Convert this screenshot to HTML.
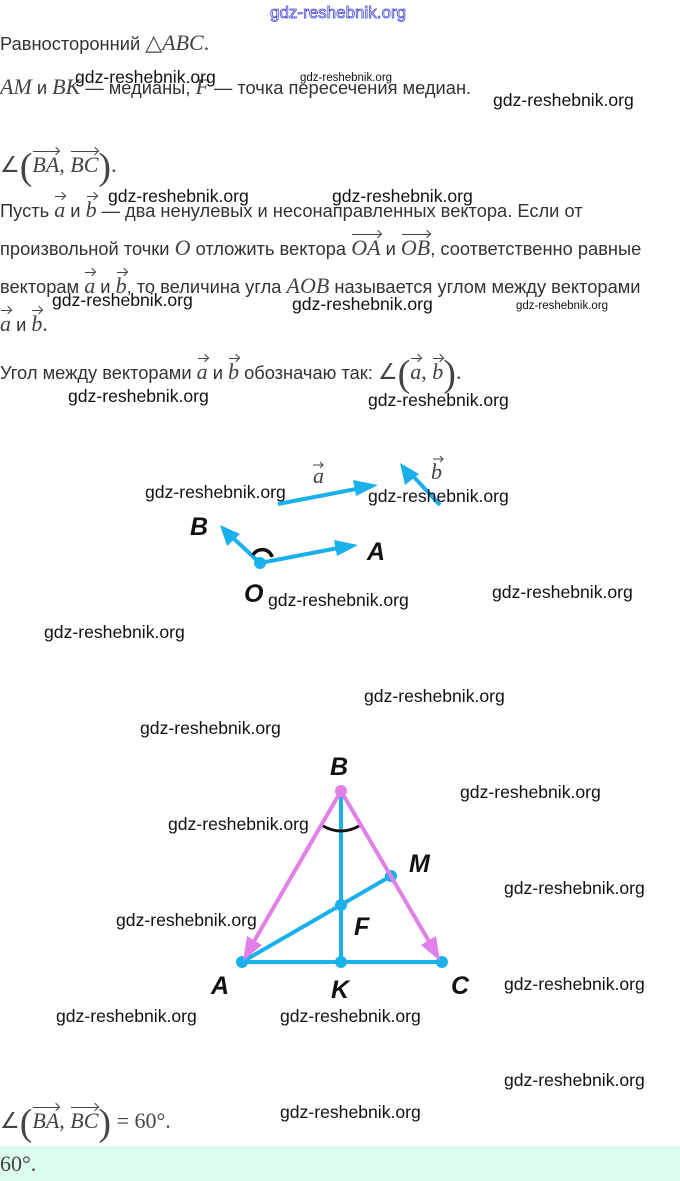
<!DOCTYPE html>
<html><head><meta charset="utf-8">
<style>
html,body{margin:0;padding:0;background:#fff;}
body{width:680px;height:1181px;position:relative;overflow:hidden;font-family:"Liberation Sans",sans-serif;color:#333;}
.t{position:absolute;white-space:nowrap;font-size:18.3px;line-height:22px;}
.m{font-family:"Liberation Serif",serif;font-style:italic;font-size:22px;color:#444;}
.r{font-family:"Liberation Serif",serif;font-size:22px;color:#444;}
.v{position:relative;display:inline-block;}
.v::before{content:"";position:absolute;left:1px;right:0;top:-3px;border-top:1.3px solid #444;}
.v::after{content:"";position:absolute;right:0;top:-6px;width:5px;height:5px;border-top:1.3px solid #444;border-right:1.3px solid #444;transform:rotate(45deg);}
.w{position:absolute;white-space:nowrap;font-size:17.6px;color:#111;line-height:20px;}
.ws{position:absolute;white-space:nowrap;font-size:11.5px;color:#111;line-height:12px;}
.big{font-family:"Liberation Serif",serif;font-size:38px;color:#444;vertical-align:-7px;}
</style></head><body>

<div class="t" style="left:270px;top:2px;font-size:17px;color:#fff;-webkit-text-stroke:0.8px #4848d8;">gdz-reshebnik.org</div>

<div class="t" style="left:0;top:32px;">Равносторонний <span class="r">△</span><span class="m">ABC</span><span class="r">.</span></div>
<div class="t" style="left:0;top:76px;"><span class="m">AM</span> и <span class="m">BK</span> — медианы, <span class="m">F</span> — точка пересечения медиан.</div>

<div class="t" style="left:0;top:154px;"><span class="r">∠</span><span class="big">(</span><span class="m v">BA</span><span class="r">, </span><span class="m v">BC</span><span class="big">)</span><span class="r">.</span></div>

<div class="t" style="left:0;top:199px;">Пусть <span class="m v">a</span> и <span class="m v">b</span> — два ненулевых и несонаправленных вектора. Если от</div>
<div class="t" style="left:0;top:237px;">произвольной точки <span class="m">O</span> отложить вектора <span class="m v">OA</span> и <span class="m v">OB</span>, соответственно равные</div>
<div class="t" style="left:0;top:275px;">векторам <span class="m v">a</span> и <span class="m v">b</span>, то величина угла <span class="m">AOB</span> называется углом между векторами</div>
<div class="t" style="left:0;top:313px;"><span class="m v">a</span> и <span class="m v">b</span><span class="r">.</span></div>

<div class="t" style="left:0;top:361px;">Угол между векторами <span class="m v">a</span> и <span class="m v">b</span> обозначаю так: <span class="r">∠</span><span class="big">(</span><span class="m v">a</span><span class="r">, </span><span class="m v">b</span><span class="big">)</span><span class="r">.</span></div>

<svg style="position:absolute;left:0;top:0" width="680" height="1181">
<g stroke="#1ab0ec" stroke-width="4" fill="#1ab0ec">
<line x1="278" y1="504" x2="356" y2="489"/><path d="M378,485 L353,480 L356,496 z" stroke="none"/>
<line x1="440" y1="505" x2="413" y2="476"/><path d="M400,463 L405,485 L419,474 z" stroke="none"/>
<line x1="260" y1="563" x2="338" y2="548"/><path d="M358,545 L334,540 L337,556 z" stroke="none"/>
<line x1="260" y1="563" x2="232" y2="537"/><path d="M220,525 L227,546 L240,534 z" stroke="none"/>
<circle cx="260" cy="563" r="6" stroke="none"/>
</g>
<path d="M253,555 A10,9 0 0 1 272,557" stroke="#111" stroke-width="3.5" fill="none"/>
<text x="313" y="483" font-family="Liberation Serif" font-style="italic" font-size="22" fill="#444">a</text>
<text x="431" y="479" font-family="Liberation Serif" font-style="italic" font-size="22" fill="#444">b</text>
<path d="M313,465 h10 m-3,-3 l3,3 l-3,3 M433,459 h10 m-3,-3 l3,3 l-3,3" stroke="#444" stroke-width="1" fill="none"/>
<g font-family="Liberation Sans" font-style="italic" font-weight="bold" font-size="25" fill="#111">
<text x="190" y="535">B</text><text x="367" y="560">A</text><text x="244" y="602">O</text>
<text x="330" y="775">B</text><text x="409" y="872">M</text><text x="354" y="935">F</text>
<text x="211" y="994">A</text><text x="331" y="998">K</text><text x="451" y="994">C</text>
</g>
<g stroke="#1ab0ec" stroke-width="4" fill="#1ab0ec">
<line x1="242" y1="962" x2="442" y2="962"/>
<line x1="341" y1="791" x2="341" y2="962"/>
<line x1="242" y1="962" x2="391" y2="876"/>
<circle cx="242" cy="962" r="6" stroke="none"/><circle cx="442" cy="962" r="6" stroke="none"/>
<circle cx="341" cy="962" r="6" stroke="none"/><circle cx="341" cy="905" r="6" stroke="none"/>
<circle cx="391" cy="876" r="6" stroke="none"/>
</g>
<g stroke="#e27fe8" stroke-width="4" fill="#e27fe8">
<line x1="341" y1="791" x2="253" y2="943"/><path d="M243,961 L247,936 L262,945 z" stroke="none"/>
<line x1="341" y1="791" x2="430" y2="943"/><path d="M440,961 L421,945 L436,936 z" stroke="none"/>
<circle cx="341" cy="791" r="6" stroke="none"/>
</g>
<path d="M323,826 Q341,836 359,826" stroke="#111" stroke-width="3" fill="none"/>
</svg>

<div class="t" style="left:0;top:1110px;"><span class="r">∠</span><span class="big">(</span><span class="m v">BA</span><span class="r">, </span><span class="m v">BC</span><span class="big">)</span><span class="r"> = 60°.</span></div>
<div style="position:absolute;left:0;top:1146px;width:680px;height:35px;background:#dcfdeb;"></div>
<div class="t" style="left:0;top:1153px;"><span class="r">60°.</span></div>

<div class="w" style="left:75px;top:67px;">gdz-reshebnik.org</div>
<div class="ws" style="left:300px;top:72px;">gdz-reshebnik.org</div>
<div class="w" style="left:493px;top:90px;">gdz-reshebnik.org</div>
<div class="w" style="left:108px;top:186px;">gdz-reshebnik.org</div>
<div class="w" style="left:332px;top:186px;">gdz-reshebnik.org</div>
<div class="w" style="left:52px;top:290px;">gdz-reshebnik.org</div>
<div class="w" style="left:292px;top:294px;">gdz-reshebnik.org</div>
<div class="ws" style="left:516px;top:300px;">gdz-reshebnik.org</div>
<div class="w" style="left:68px;top:386px;">gdz-reshebnik.org</div>
<div class="w" style="left:368px;top:390px;">gdz-reshebnik.org</div>
<div class="w" style="left:145px;top:482px;">gdz-reshebnik.org</div>
<div class="w" style="left:368px;top:486px;">gdz-reshebnik.org</div>
<div class="w" style="left:268px;top:590px;">gdz-reshebnik.org</div>
<div class="w" style="left:492px;top:582px;">gdz-reshebnik.org</div>
<div class="w" style="left:44px;top:622px;">gdz-reshebnik.org</div>
<div class="w" style="left:364px;top:686px;">gdz-reshebnik.org</div>
<div class="w" style="left:140px;top:718px;">gdz-reshebnik.org</div>
<div class="w" style="left:460px;top:782px;">gdz-reshebnik.org</div>
<div class="w" style="left:168px;top:814px;">gdz-reshebnik.org</div>
<div class="w" style="left:504px;top:878px;">gdz-reshebnik.org</div>
<div class="w" style="left:116px;top:910px;">gdz-reshebnik.org</div>
<div class="w" style="left:504px;top:974px;">gdz-reshebnik.org</div>
<div class="w" style="left:56px;top:1006px;">gdz-reshebnik.org</div>
<div class="w" style="left:280px;top:1006px;">gdz-reshebnik.org</div>
<div class="w" style="left:504px;top:1070px;">gdz-reshebnik.org</div>
<div class="w" style="left:280px;top:1102px;">gdz-reshebnik.org</div>
</body></html>
